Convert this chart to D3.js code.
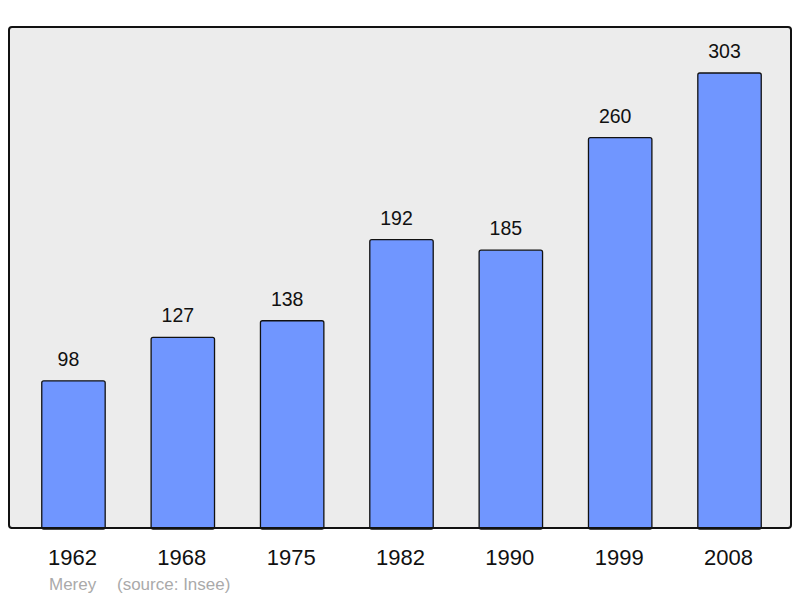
<!DOCTYPE html>
<html><head><meta charset="utf-8">
<script src="https://cdn.jsdelivr.net/npm/d3@7"></script>
<style>body{margin:0;background:#fff}svg{display:block}</style>
</head><body>
<svg id="c" width="800" height="598"></svg>
<script>
const years = ["1962","1968","1975","1982","1990","1999","2008"];
const population = [98,127,138,192,185,260,303];
const placeName = "Merey";
const sourceText = "(source: Insee)";

const svg = d3.select("#c");
const W = 800, H = 598;
const panel = {x0: 9, y0: 27, x1: 791, y1: 528};

svg.append("rect").attr("x",0).attr("y",0).attr("width",W).attr("height",H).attr("fill","#fff");
svg.append("rect")
  .attr("x",panel.x0).attr("y",panel.y0)
  .attr("width",panel.x1-panel.x0).attr("height",panel.y1-panel.y0)
  .attr("rx",3).attr("ry",3)
  .attr("fill","#ececec").attr("stroke","#111").attr("stroke-width",2);

const x = d3.scaleBand().domain(years).range([18.8, 784.2]).paddingInner(0.42).paddingOuter(0.21);
const y = d3.scaleLinear().domain([0,303]).range([panel.y1, 73]);

const g = svg.append("g");
g.selectAll("rect.bar").data(population).join("rect")
  .attr("class","bar")
  .attr("x",(d,i)=>x(years[i]))
  .attr("y",d=>y(d))
  .attr("width",x.bandwidth())
  .attr("height",d=>panel.y1 - y(d) + 1)
  .attr("rx",2).attr("ry",2)
  .attr("fill","#7096ff").attr("stroke","#111").attr("stroke-width",1.3);

svg.append("line").attr("x1",panel.x0+2).attr("x2",panel.x1-2).attr("y1",panel.y1).attr("y2",panel.y1)
  .attr("stroke","#111").attr("stroke-width",2);

g.selectAll("text.val").data(population).join("text")
  .attr("class","val")
  .attr("x",(d,i)=>x(years[i])+x.bandwidth()/2-5)
  .attr("y",d=>y(d)-15)
  .attr("text-anchor","middle")
  .attr("font-family","Liberation Sans, Arial, sans-serif")
  .attr("font-size",19.5).attr("fill","#111")
  .text(d=>d);

const xAxis = d3.axisBottom(x).tickSize(0).tickPadding(0);
const ax = svg.append("g").attr("transform",`translate(0,${panel.y1})`).call(xAxis);
ax.select(".domain").remove();
ax.selectAll("text")
  .attr("y",37).attr("dy",null)
  .attr("transform","translate(-1,0)")
  .attr("font-family","Liberation Sans, Arial, sans-serif")
  .attr("font-size",22).attr("fill","#111");

svg.append("text").attr("x",49).attr("y",590)
  .attr("font-family","Liberation Sans, Arial, sans-serif").attr("font-size",17).attr("fill","#aaa")
  .text(placeName);
svg.append("text").attr("x",117).attr("y",590)
  .attr("font-family","Liberation Sans, Arial, sans-serif").attr("font-size",17).attr("fill","#aaa")
  .text(sourceText);
</script>
</body></html>
